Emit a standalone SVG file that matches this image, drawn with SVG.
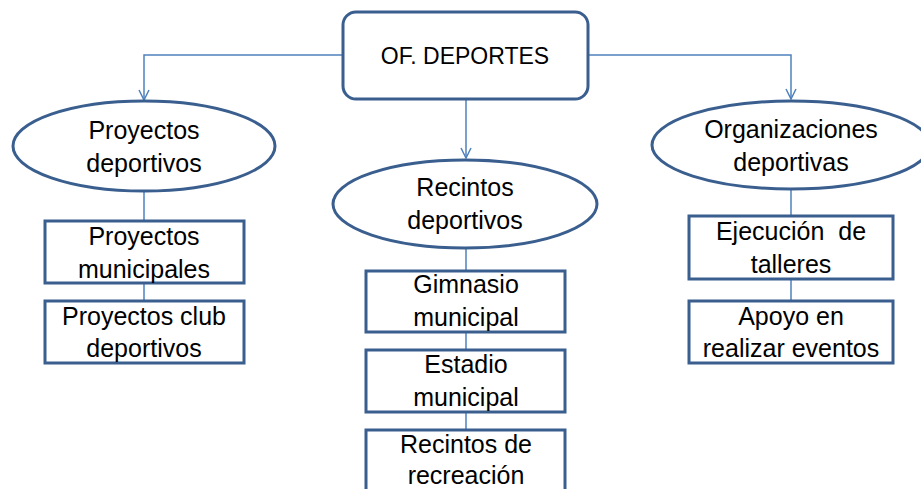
<svg xmlns="http://www.w3.org/2000/svg" width="921" height="489" viewBox="0 0 921 489">
<defs>
<style>
.shape{fill:#fff;stroke:#3a5f8f;stroke-width:3}
.conn{fill:none;stroke:#4f81bd;stroke-width:1.5}
text{font-family:"Liberation Sans",Arial,sans-serif;font-size:25px;fill:#000;text-anchor:middle}
</style>
<marker id="arr" viewBox="0 0 12 12" refX="11" refY="6" markerWidth="12" markerHeight="12" markerUnits="userSpaceOnUse" orient="auto">
<path d="M1,1 L11,6 L1,11" fill="none" stroke="#4f81bd" stroke-width="1.5"/>
</marker>
</defs>
<rect width="921" height="489" fill="#fff"/>
<g id="connectors">
<path class="conn" d="M343,55 H144 V100" marker-end="url(#arr)"/>
<path class="conn" d="M466,99 V158" marker-end="url(#arr)"/>
<path class="conn" d="M588,55 H791 V99" marker-end="url(#arr)"/>
<path class="conn" d="M144,191 V221 M144,283 V301"/>
<path class="conn" d="M466,249 V271 M466,332 V350 M466,412 V430"/>
<path class="conn" d="M791,188 V216 M791,279 V301"/>
</g>
<g id="root">
<rect class="shape" x="343" y="12" width="245" height="87" rx="13"/>
<text x="465" y="64" style="font-size:23px">OF. DEPORTES</text>
</g>
<g id="proyectos-deportivos">
<ellipse class="shape" cx="144" cy="146" rx="131" ry="45"/>
<text x="144" y="139">Proyectos</text>
<text x="144" y="172">deportivos</text>
</g>
<g id="proyectos-municipales">
<rect class="shape" x="45" y="221" width="199" height="62"/>
<text x="144" y="245">Proyectos</text>
<text x="144" y="278">municipales</text>
</g>
<g id="proyectos-club">
<rect class="shape" x="45" y="301" width="199" height="62"/>
<text x="144" y="325">Proyectos club</text>
<text x="144" y="357">deportivos</text>
</g>
<g id="recintos-deportivos">
<ellipse class="shape" cx="465" cy="204" rx="132" ry="44"/>
<text x="465" y="196">Recintos</text>
<text x="465" y="229">deportivos</text>
</g>
<g id="gimnasio">
<rect class="shape" x="366" y="271" width="199" height="61"/>
<text x="466" y="293">Gimnasio</text>
<text x="466" y="326">municipal</text>
</g>
<g id="estadio">
<rect class="shape" x="366" y="350" width="199" height="62"/>
<text x="466" y="373">Estadio</text>
<text x="466" y="406">municipal</text>
</g>
<g id="recintos-recreacion">
<rect class="shape" x="366" y="430" width="199" height="70"/>
<text x="466" y="453">Recintos de</text>
<text x="466" y="484">recreación</text>
</g>
<g id="organizaciones-deportivas">
<ellipse class="shape" cx="791" cy="145" rx="139" ry="44"/>
<text x="791" y="138">Organizaciones</text>
<text x="791" y="171">deportivas</text>
</g>
<g id="ejecucion-talleres">
<rect class="shape" x="689" y="216" width="204" height="63"/>
<text x="791" y="240" xml:space="preserve">Ejecución  de</text>
<text x="791" y="273">talleres</text>
</g>
<g id="apoyo-eventos">
<rect class="shape" x="689" y="301" width="204" height="62"/>
<text x="791" y="325">Apoyo en</text>
<text x="791" y="357">realizar eventos</text>
</g>
</svg>
